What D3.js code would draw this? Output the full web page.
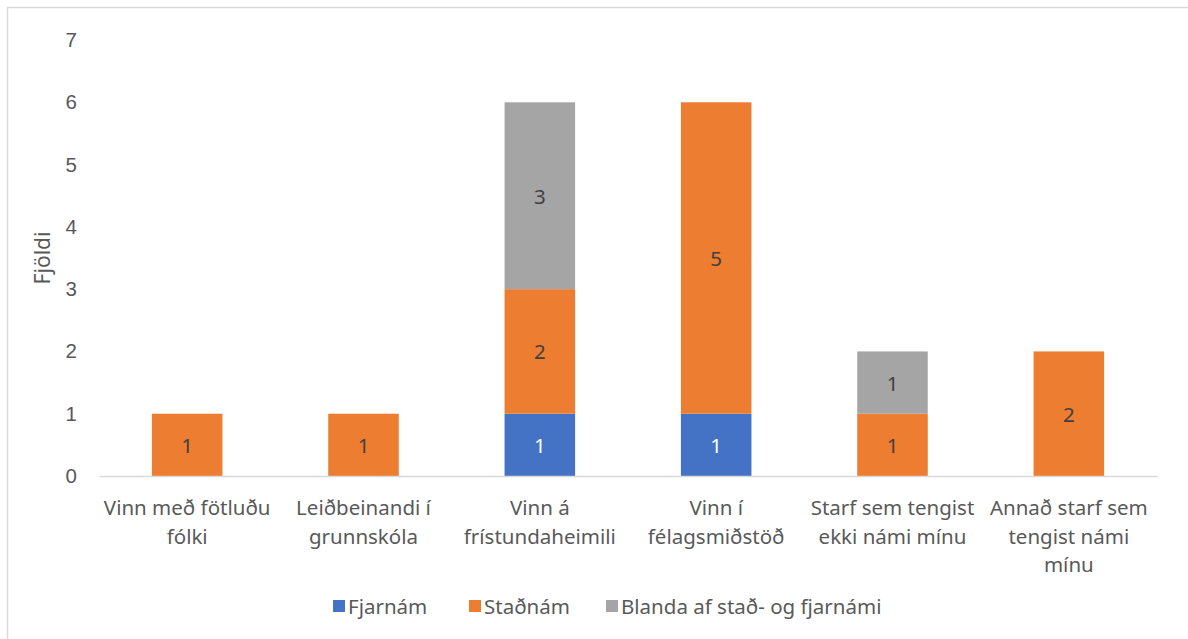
<!DOCTYPE html>
<html>
<head>
<meta charset="utf-8">
<script src="https://cdn.jsdelivr.net/npm/d3@7"></script>
<style>
  body { margin: 0; background: #fff; }
  svg { display: block; font-family: "Segoe UI", "Noto Sans", "Open Sans", sans-serif; }
</style>
</head>
<body>
<div id="chart"></div>
<script>
// Gögn lesin af myndinni
const categories = [
    ["Vinn með fötluðu", "fólki"],
    ["Leiðbeinandi í", "grunnskóla"],
    ["Vinn á", "frístundaheimili"],
    ["Vinn í", "félagsmiðstöð"],
    ["Starf sem tengist", "ekki námi mínu"],
    ["Annað starf sem", "tengist námi", "mínu"]
];
const seriesNames = ["Fjarnám", "Staðnám", "Blanda af stað- og fjarnámi"];
const fjarnam = [0, 0, 1, 1, 0, 0];
const stadnam = [1, 1, 2, 5, 1, 2];
const blanda = [0, 0, 3, 0, 1, 0];
const colors = ["#4472C4", "#ED7D31", "#A5A5A5"];
const labelColors = ["#FFFFFF", "#404040", "#404040"];
const yTicks = [0, 1, 2, 3, 4, 5, 6, 7];

const width = 1188, height = 639;
const margin = { top: 40, right: 31, bottom: 163, left: 99 };
const fontSize = 20.5;

const svg = d3.select("#chart").append("svg")
    .attr("width", width)
    .attr("height", height);

// ramminn (aðeins vinstri og efri brún sjást)
svg.append("rect")
    .attr("x", 7.5).attr("y", 7.5)
    .attr("width", width + 20).attr("height", height + 20)
    .attr("fill", "none")
    .attr("stroke", "#D9D9D9")
    .attr("stroke-width", 1.5);

const xScale = d3.scaleBand()
    .domain(d3.range(categories.length))
    .range([margin.left, width - margin.right])
    .paddingInner(0.6)
    .paddingOuter(0.3);

const yScale = d3.scaleLinear()
    .domain([0, 7])
    .range([height - margin.bottom, margin.top]);

const rows = categories.map((c, i) => ({ i, Fjarnám: fjarnam[i], Staðnám: stadnam[i], "Blanda af stað- og fjarnámi": blanda[i] }));
const stacked = d3.stack().keys(seriesNames)(rows);

// Y ás
const yAxis = d3.axisLeft(yScale).tickValues(yTicks).tickFormat(d3.format("d")).tickSize(0).tickPadding(0);
svg.append("g")
    .attr("transform", `translate(${margin.left - 22},0)`)
    .call(yAxis)
    .call(g => g.select(".domain").remove())
    .call(g => g.selectAll("text")
        .attr("fill", "#595959")
        .attr("font-size", fontSize)
        .attr("font-family", null));

svg.append("text")
    .attr("transform", `translate(42,${yScale(3.5)}) rotate(-90)`)
    .attr("text-anchor", "middle")
    .attr("dominant-baseline", "central")
    .attr("fill", "#595959")
    .attr("font-size", 21)
    .text("Fjöldi");

// súlurnar
stacked.forEach((layer, s) => {
    const g = svg.append("g");
    g.selectAll("rect")
        .data(layer.filter(d => d[1] - d[0] > 0))
        .join("rect")
        .attr("x", d => xScale(d.data.i))
        .attr("y", d => yScale(d[1]))
        .attr("width", xScale.bandwidth())
        .attr("height", d => yScale(d[0]) - yScale(d[1]))
        .attr("fill", colors[s]);
    g.selectAll("text")
        .data(layer.filter(d => d[1] - d[0] > 0))
        .join("text")
        .attr("x", d => xScale(d.data.i) + xScale.bandwidth() / 2)
        .attr("y", d => yScale((d[0] + d[1]) / 2))
        .attr("text-anchor", "middle")
        .attr("dominant-baseline", "central")
        .attr("fill", labelColors[s])
        .attr("font-size", fontSize)
        .text(d => d[1] - d[0]);
});

// X ás
const xAxis = d3.axisBottom(xScale).tickSize(0).tickFormat("");
const xg = svg.append("g")
    .attr("transform", `translate(0,${yScale(0)})`)
    .call(xAxis);
xg.select(".domain").attr("stroke", "#D9D9D9").attr("stroke-width", 1.5);

const catLabels = svg.append("g");
categories.forEach((lines, i) => {
    const t = catLabels.append("text")
        .attr("text-anchor", "middle")
        .attr("fill", "#595959")
        .attr("font-size", fontSize);
    lines.forEach((line, k) => {
        t.append("tspan")
            .attr("x", xScale(i) + xScale.bandwidth() / 2)
            .attr("y", yScale(0) + 39 + k * 28.5)
            .text(line);
    });
});

// skýringar
const legendX = [333, 469, 606];
const legend = svg.append("g").attr("transform", `translate(0,606)`);
seriesNames.forEach((name, s) => {
    legend.append("rect")
        .attr("x", legendX[s]).attr("y", -6)
        .attr("width", 12).attr("height", 12)
        .attr("fill", colors[s]);
    legend.append("text")
        .attr("x", legendX[s] + 15)
        .attr("y", 0)
        .attr("dominant-baseline", "central")
        .attr("fill", "#595959")
        .attr("font-size", fontSize)
        .text(name);
});
</script>
</body>
</html>
